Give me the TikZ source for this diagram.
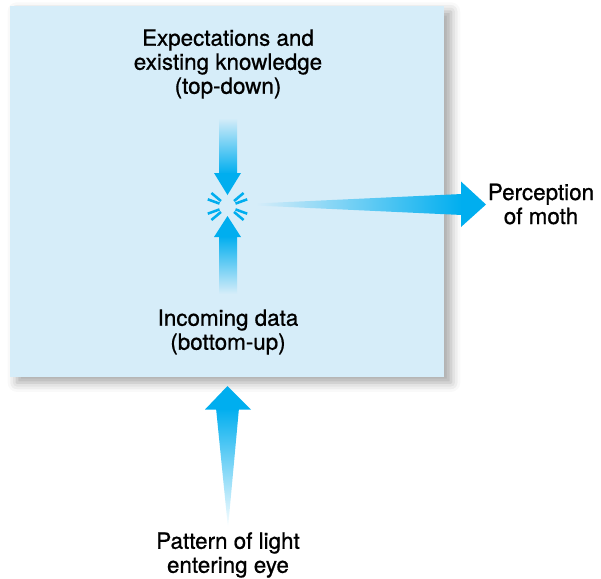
\documentclass[tikz,border=0pt]{standalone}
\usepackage{fontspec}
\setmainfont{TeX Gyre Heros}[FakeBold=0.8]
\usetikzlibrary{shadows.blur}
\definecolor{bg}{HTML}{D6EDF9}
\definecolor{cy}{HTML}{00AEEF}
\begin{document}
\begin{tikzpicture}[x=0.75pt,y=-0.75pt,
  lbl/.style={align=center,font=\fontsize{16.8pt}{18pt}\selectfont,text=black,inner sep=0pt},
  ray/.style={draw=cy,line width=1.9pt}]
\useasboundingbox (0,0) rectangle (601,579);
% box
\node[fill=bg,minimum width=325.5pt,minimum height=278.25pt,inner sep=0pt,anchor=north west,
  blur shadow={shadow xshift=5pt,shadow yshift=-4pt,shadow blur radius=7pt,shadow opacity=35}] (box) at (10,6) {};
% texts
\node[lbl] (top) at (228,64) {Expectations and\\existing knowledge\\(top-down)};
\node[lbl] (inc) at (228,332) {Incoming data\\(bottom-up)};
\node[lbl] (per) at (541,204) {Perception\\of moth};
\node[lbl] (pat) at (228,555) {Pattern of light\\entering eye};
% centre
\coordinate (c) at (227.5,206.5);
% top-down arrow
\shade[top color=bg,bottom color=cy] (219,118) rectangle (237,174);
\fill[cy] (214,173) -- (241,173) -- (227.5,195) -- cycle;
% bottom-up inner arrow
\shade[top color=cy,bottom color=bg] (219,236) rectangle (237,294);
\fill[cy] (214,237) -- (241,237) -- (227.5,216) -- cycle;
% burst
\foreach \a in {20,160,200,340,40,140,220,320}
  \draw[ray] ($(c)+(\a:8.5)$) -- ($(c)+(\a:21)$);
% right arrow
\shade[left color=bg,right color=cy] (256,203.5) -- (462,194) -- (462,215) -- (256,205.5) -- cycle;
\fill[cy] (461,181.5) -- (486,204.5) -- (461,227) -- cycle;
% bottom arrow
\shade[top color=cy,middle color=cy!55,bottom color=white] (216,408) -- (239,408) -- (228,528) -- cycle;
\fill[cy] (205,409.5) -- (251,409.5) -- (227.5,386) -- cycle;
\end{tikzpicture}
\end{document}
